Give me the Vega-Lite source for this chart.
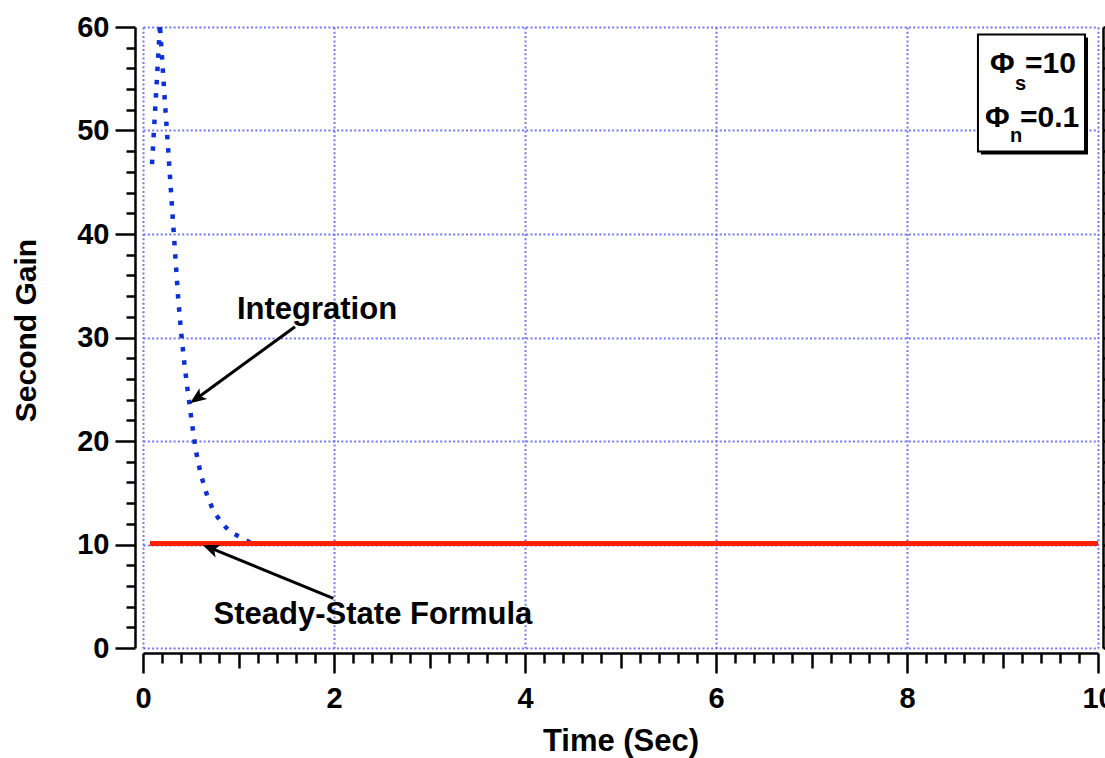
{
  "$schema": "https://vega.github.io/schema/vega-lite/v6.json",
  "width": 955,
  "height": 621,
  "autosize": {"type": "none"},
  "padding": {"left": 143, "top": 27, "right": 7, "bottom": 110},
  "background": "white",
  "config": {
    "view": {"stroke": null},
    "axis": {
      "domainColor": "black",
      "domainWidth": 2.5,
      "tickColor": "black",
      "tickWidth": 2.5,
      "gridColor": "#6666ff",
      "gridDash": [2, 2.3],
      "gridWidth": 2,
      "gridOpacity": 0.9,
      "labelFont": "Liberation Sans",
      "labelFontWeight": "bold",
      "labelFontSize": 29,
      "labelColor": "black",
      "titleFont": "Liberation Sans",
      "titleFontWeight": "bold",
      "titleColor": "black",
      "labelFlush": false,
      "labelOverlap": false
    }
  },
  "datasets": {
    "integration": [
      {"t": 0.094, "v": 46.76},
      {"t": 0.115, "v": 50.05},
      {"t": 0.136, "v": 53.43},
      {"t": 0.157, "v": 56.81},
      {"t": 0.176, "v": 60.0},
      {"t": 0.177, "v": 61.0},
      {"t": 0.178, "v": 60.0},
      {"t": 0.201, "v": 56.81},
      {"t": 0.228, "v": 52.95},
      {"t": 0.257, "v": 49.08},
      {"t": 0.285, "v": 45.22},
      {"t": 0.313, "v": 41.35},
      {"t": 0.341, "v": 37.49},
      {"t": 0.370, "v": 33.62},
      {"t": 0.397, "v": 30.72},
      {"t": 0.429, "v": 27.83},
      {"t": 0.467, "v": 24.93},
      {"t": 0.508, "v": 22.03},
      {"t": 0.552, "v": 19.13},
      {"t": 0.607, "v": 16.71},
      {"t": 0.670, "v": 14.78},
      {"t": 0.733, "v": 13.33},
      {"t": 0.817, "v": 12.17},
      {"t": 0.911, "v": 11.21},
      {"t": 1.047, "v": 10.58},
      {"t": 1.12, "v": 10.2}
    ],
    "steady": [
      {"t": 0.073, "v": 10.1},
      {"t": 10.0, "v": 10.1}
    ],
    "arrows": [
      {"t": 1.592, "v": 31.04, "t2": 0.594, "v2": 24.33},
      {"t": 1.993, "v": 4.80, "t2": 0.741, "v2": 9.52}
    ],
    "head1": [{"t": 0.492, "v": 23.64}],
    "head2": [{"t": 0.625, "v": 9.95}],
    "notes": [
      {"label": "Integration", "t": 1.822, "v": 31.79},
      {"label": "Steady-State Formula", "t": 2.408, "v": 2.32}
    ],
    "box": [{"t": 8.743, "t2": 9.864, "v": 59.28, "v2": 47.97}],
    "legendMain": [
      {"label": "Φ", "t": 8.869, "v": 55.53},
      {"label": "=10", "t": 9.236, "v": 55.53},
      {"label": "Φ", "t": 8.817, "v": 50.37},
      {"label": "=0.1", "t": 9.183, "v": 50.37}
    ],
    "legendSub": [
      {"label": "s", "t": 9.131, "v": 53.91},
      {"label": "n", "t": 9.079, "v": 48.92}
    ]
  },
  "layer": [
    {
      "data": {"name": "integration"},
      "mark": {"type": "line", "color": "#0b30d8", "strokeWidth": 4.5, "strokeDash": [4.5, 8.8], "strokeCap": "butt", "strokeJoin": "round", "clip": true},
      "encoding": {
        "x": {"field": "t", "type": "quantitative", "scale": {"domain": [0, 10], "nice": false, "zero": false},
          "axis": {"orient": "bottom", "offset": 5, "values": [0, 2, 4, 6, 8, 10], "tickSize": 20, "grid": true, "labelPadding": 11,
            "title": "Time (Sec)", "titleFontSize": 31, "titleBaseline": "alphabetic", "titleY": 97.5}},
        "y": {"field": "v", "type": "quantitative", "scale": {"domain": [0, 60], "nice": false, "zero": false},
          "axis": {"orient": "left", "offset": 8, "values": [0, 10, 20, 30, 40, 50, 60], "tickSize": 20, "grid": true, "labelPadding": 6,
            "title": "Second Gain", "titleFontSize": 30, "titleBaseline": "alphabetic", "titleX": -100, "titleY": 303}}
      }
    },
    {
      "data": {"name": "steady"},
      "mark": {"type": "line", "color": "#ff2200", "strokeWidth": 5, "strokeCap": "butt"},
      "encoding": {
        "x": {"field": "t", "type": "quantitative", "scale": {"domain": [0, 10], "nice": false, "zero": false},
          "axis": {"orient": "bottom", "offset": 5, "values": [1, 3, 5, 7, 9], "tickSize": 15, "labels": false, "domain": false, "grid": false, "title": null}},
        "y": {"field": "v", "type": "quantitative", "scale": {"domain": [0, 60], "nice": false, "zero": false},
          "axis": {"orient": "left", "offset": 8, "values": [2, 4, 6, 8, 12, 14, 16, 18, 22, 24, 26, 28, 32, 34, 36, 38, 42, 44, 46, 48, 52, 54, 56, 58], "tickSize": 9, "labels": false, "domain": false, "grid": false, "title": null}}
      }
    },
    {
      "data": {"name": "arrows"},
      "mark": {"type": "rule", "color": "black", "strokeWidth": 3, "strokeCap": "butt"},
      "encoding": {
        "x": {"field": "t", "type": "quantitative", "scale": {"domain": [0, 10], "nice": false, "zero": false},
          "axis": {"orient": "bottom", "offset": 5, "values": [0.2, 0.4, 0.6, 0.8, 1.2, 1.4, 1.6, 1.8, 2.2, 2.4, 2.6, 2.8, 3.2, 3.4, 3.6, 3.8, 4.2, 4.4, 4.6, 4.8, 5.2, 5.4, 5.6, 5.8, 6.2, 6.4, 6.6, 6.8, 7.2, 7.4, 7.6, 7.8, 8.2, 8.4, 8.6, 8.8, 9.2, 9.4, 9.6, 9.8], "tickSize": 10, "labels": false, "domain": false, "grid": false, "title": null}},
        "y": {"field": "v", "type": "quantitative", "scale": {"domain": [0, 60], "nice": false, "zero": false},
          "axis": {"orient": "right", "offset": 5, "values": [0, 10, 20, 30, 40, 50, 60], "tickSize": 20, "labels": false, "grid": false, "title": null}},
        "x2": {"field": "t2"},
        "y2": {"field": "v2"}
      }
    },
    {
      "data": {"name": "head1"},
      "mark": {"type": "point", "shape": "M0,0 L-0.4,1 L0,0.75 L0.4,1 Z", "size": 1100, "angle": 234, "filled": true, "fill": "black", "strokeWidth": 0, "opacity": 1},
      "encoding": {
        "x": {"field": "t", "type": "quantitative", "scale": {"domain": [0, 10], "nice": false, "zero": false}, "axis": null},
        "y": {"field": "v", "type": "quantitative", "scale": {"domain": [0, 60], "nice": false, "zero": false},
          "axis": {"orient": "right", "offset": 5, "values": [2, 4, 6, 8, 12, 14, 16, 18, 22, 24, 26, 28, 32, 34, 36, 38, 42, 44, 46, 48, 52, 54, 56, 58], "tickSize": 9, "labels": false, "domain": false, "grid": false, "title": null}}
      }
    },
    {
      "data": {"name": "head2"},
      "mark": {"type": "point", "shape": "M0,0 L-0.4,1 L0,0.75 L0.4,1 Z", "size": 1100, "angle": 292, "filled": true, "fill": "black", "strokeWidth": 0, "opacity": 1},
      "encoding": {
        "x": {"field": "t", "type": "quantitative", "scale": {"domain": [0, 10], "nice": false, "zero": false}, "axis": null},
        "y": {"field": "v", "type": "quantitative", "scale": {"domain": [0, 60], "nice": false, "zero": false}, "axis": null}
      }
    },
    {
      "data": {"name": "notes"},
      "mark": {"type": "text", "font": "Liberation Sans", "fontWeight": "bold", "fontSize": 31, "align": "center", "baseline": "alphabetic", "color": "black"},
      "encoding": {
        "x": {"field": "t", "type": "quantitative", "scale": {"domain": [0, 10], "nice": false, "zero": false}, "axis": null},
        "y": {"field": "v", "type": "quantitative", "scale": {"domain": [0, 60], "nice": false, "zero": false}, "axis": null},
        "text": {"field": "label"}
      }
    },
    {
      "data": {"name": "box"},
      "mark": {"type": "rect", "fill": "black", "xOffset": 3, "x2Offset": 3, "yOffset": 3, "y2Offset": 3},
      "encoding": {
        "x": {"field": "t", "type": "quantitative", "scale": {"domain": [0, 10], "nice": false, "zero": false}, "axis": null},
        "x2": {"field": "t2"},
        "y": {"field": "v", "type": "quantitative", "scale": {"domain": [0, 60], "nice": false, "zero": false}, "axis": null},
        "y2": {"field": "v2"}
      }
    },
    {
      "data": {"name": "box"},
      "mark": {"type": "rect", "fill": "white", "stroke": "black", "strokeWidth": 2},
      "encoding": {
        "x": {"field": "t", "type": "quantitative", "scale": {"domain": [0, 10], "nice": false, "zero": false}, "axis": null},
        "x2": {"field": "t2"},
        "y": {"field": "v", "type": "quantitative", "scale": {"domain": [0, 60], "nice": false, "zero": false}, "axis": null},
        "y2": {"field": "v2"}
      }
    },
    {
      "data": {"name": "legendMain"},
      "mark": {"type": "text", "font": "Liberation Sans", "fontWeight": "bold", "fontSize": 30, "align": "left", "baseline": "alphabetic", "color": "black"},
      "encoding": {
        "x": {"field": "t", "type": "quantitative", "scale": {"domain": [0, 10], "nice": false, "zero": false}, "axis": null},
        "y": {"field": "v", "type": "quantitative", "scale": {"domain": [0, 60], "nice": false, "zero": false}, "axis": null},
        "text": {"field": "label"}
      }
    },
    {
      "data": {"name": "legendSub"},
      "mark": {"type": "text", "font": "Liberation Sans", "fontWeight": "bold", "fontSize": 20, "align": "left", "baseline": "alphabetic", "color": "black"},
      "encoding": {
        "x": {"field": "t", "type": "quantitative", "scale": {"domain": [0, 10], "nice": false, "zero": false}, "axis": null},
        "y": {"field": "v", "type": "quantitative", "scale": {"domain": [0, 60], "nice": false, "zero": false}, "axis": null},
        "text": {"field": "label"}
      }
    }
  ],
  "resolve": {"axis": {"x": "independent", "y": "independent"}}
}
